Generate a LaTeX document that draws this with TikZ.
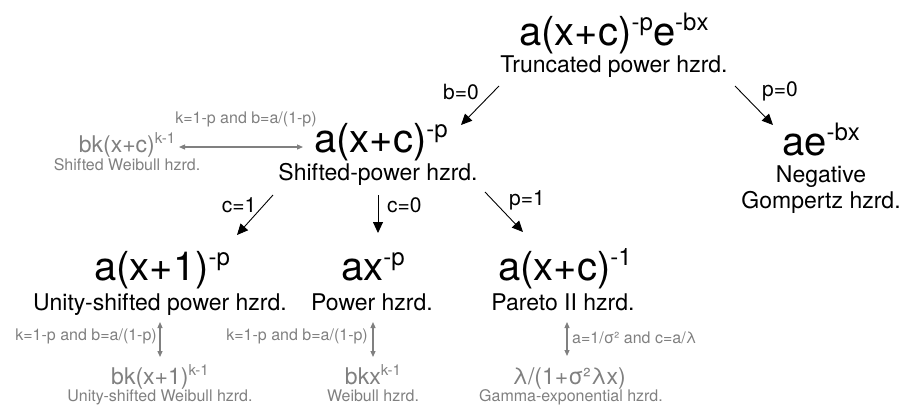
\documentclass[tikz,border=0pt]{standalone}
\usepackage{fontspec}
\setmainfont{TeX Gyre Heros}
\usetikzlibrary{arrows.meta}
\definecolor{gtx}{RGB}{128,128,128}
\newcommand\bsup[1]{\raisebox{15pt}{\fontsize{24}{24}\selectfont #1}}
\newcommand\gsup[1]{\raisebox{9pt}{\fontsize{15}{15}\selectfont #1}}
\begin{document}
\begin{tikzpicture}[x=1pt,y=-1pt,
 every node/.style={inner sep=0pt, anchor=base},
 big/.style={font=\fontsize{40}{40}\selectfont},
 sub/.style={font=\fontsize{23}{23}\selectfont},
 lab/.style={font=\fontsize{21}{21}\selectfont},
 gbig/.style={font=\fontsize{23}{23}\selectfont, text=gtx},
 gsub/.style={font=\fontsize{16}{16}\selectfont, text=gtx},
 arr/.style={-{Triangle[length=11pt,width=10pt]}, line width=0.9pt},
 garr/.style={{Triangle[length=6pt,width=5pt]}-{Triangle[length=6pt,width=5pt]}, draw=gtx, line width=1.2pt}]
\useasboundingbox (0,0) rectangle (899,405);
% top
\node[big] (tf) at (614,45) {a(x+c)\bsup{-p}e\bsup{-bx}};
\node[sub] (ts) at (614,72) {Truncated power hzrd.};
% shifted power
\node[big] (sf) at (381,152) {a(x+c)\bsup{-p}};
\node[sub] (ss) at (378,180) {Shifted-power hzrd.};
% negative gompertz
\node[big] (ae) at (821,155) {ae\bsup{-bx}};
\node[sub] (ng1) at (821,182) {Negative};
\node[sub] (ng2) at (821,208) {Gompertz hzrd.};
% shifted weibull
\node[gbig] (gf) at (127,152) {bk(x+c)\gsup{k-1}};
\node[gsub] (gs) at (127,170) {Shifted Weibull hzrd.};
% bottom row
\node[big] (uf) at (162,280) {a(x+1)\bsup{-p}};
\node[sub] (us) at (160,310) {Unity-shifted power hzrd.};
\node[big] (pf) at (373,280) {ax\bsup{-p}};
\node[sub] (ps) at (372,310) {Power hzrd.};
\node[big] (pa) at (565,280) {a(x+c)\bsup{-1}};
\node[sub] (pas) at (563,310) {Pareto II hzrd.};
% gray bottom
\node[gbig] (gu) at (160,384) {bk(x+1)\gsup{k-1}};
\node[gsub] (gus) at (160,401) {Unity-shifted Weibull hzrd.};
\node[gbig] (gw) at (373,384) {bkx\gsup{k-1}};
\node[gsub] (gws) at (373,401) {Weibull hzrd.};
\node[gbig] (gg) at (569,384) {λ/(1+σ²λx)};
\node[gsub] (ggs) at (571,401) {Gamma-exponential hzrd.};
% labels
\node[lab] (lb0) at (461,99) {b=0};
\node[lab] (lp0) at (780,96) {p=0};
\node[lab] (lc1) at (239,212) {c=1};
\node[lab,anchor=base west] (lc0) at (387,212) {c=0};
\node[lab] (lp1) at (527,205) {p=1};
\node[gsub] (lk1) at (246,123) {k=1-p and b=a/(1-p)};
\node[gsub,anchor=base east] (lk2) at (157,340) {k=1-p and b=a/(1-p)};
\node[gsub,anchor=base east] (lk3) at (368,340) {k=1-p and b=a/(1-p)};
\node[gsub,anchor=base west] (lk4) at (572,343) {a=1/σ² and c=a/λ};
% arrows
\draw[arr] ([shift={(-115,14)}]ts.base) -- ([shift={(80,-27)}]sf.base);
\draw[arr] ([shift={(121,14)}]ts.base) -- ([shift={(-48,-30)}]ae.base);
\draw[garr] ([shift={(52,-5)}]gf.base) -- ([shift={(-78,-5)}]sf.base);
\draw[arr] ([shift={(-105,15)}]ss.base) -- ([shift={(75,-45)}]uf.base);
\draw[arr] ([shift={(0,15)}]ss.base) -- ([shift={(5,-47)}]pf.base);
\draw[arr] ([shift={(107,12)}]ss.base) -- ([shift={(-42,-48)}]pa.base);
\draw[garr] ([shift={(0,12)}]us.base) -- ([shift={(0,-27)}]gu.base);
\draw[garr] ([shift={(1,12)}]ps.base) -- ([shift={(0,-27)}]gw.base);
\draw[garr] ([shift={(4,12)}]pas.base) -- ([shift={(-2,-28)}]gg.base);
\end{tikzpicture}
\end{document}
